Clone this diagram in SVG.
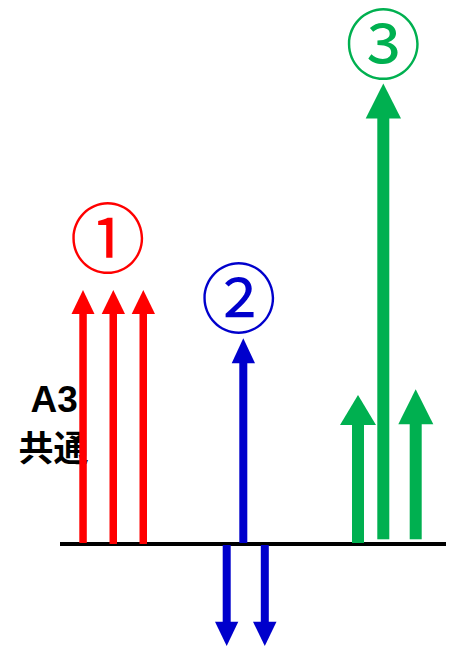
<svg xmlns="http://www.w3.org/2000/svg" width="462" height="649" viewBox="0 0 462 649">
<style>
.r{fill:#FF0000}.b{fill:#0000CC}.g{fill:#00B050}
.num{font-family:"Noto Sans CJK JP","Noto Sans",sans-serif;font-size:76px;text-anchor:middle;dominant-baseline:central}
.cjk{font-family:"Noto Sans CJK JP",sans-serif;font-size:35px;font-weight:bold;fill:#000;text-anchor:middle}
.a3{font-family:"Liberation Sans",Arial,sans-serif;font-size:37px;font-weight:bold;fill:#000;text-anchor:middle}
</style>
<rect width="462" height="649" fill="#fff"/>
<g id="label-a3">
<text class="a3" x="54.2" y="411.7">A3</text>
<text class="cjk" x="53.5" y="460.5">共通</text>
</g>
<g id="label1"><text class="num r" x="107.7" y="233.5">①</text></g>
<g id="label2"><text class="num b" x="238.7" y="293.5">②</text></g>
<g id="label3"><text class="num g" x="383.3" y="40">③</text></g>
<g id="baseline"><rect x="60" y="542" width="386" height="4" fill="#000"/></g>
<g id="connectors">
<g class="r">
<rect x="79.3" y="312" width="7.5" height="231"/><polygon points="83,290 71.5,314 94.5,314"/>
<rect x="109.5" y="312" width="7.5" height="232"/><polygon points="113.3,290 101.7,314 125,314"/>
<rect x="139.5" y="312" width="7.5" height="232"/><polygon points="143.3,290 131.7,314 155,314"/>
</g>
<g class="b">
<rect x="239.3" y="361" width="8" height="182"/><polygon points="243.3,338.3 231.7,363.3 255,363.3"/>
<rect x="222.7" y="545" width="8" height="78"/><polygon points="215,621.7 238.3,621.7 226.7,646"/>
<rect x="260.8" y="545" width="8" height="78"/><polygon points="253,621.7 276.5,621.7 264.8,646"/>
</g>
<g class="g">
<rect x="377.3" y="116" width="12" height="423.3"/><polygon points="383.3,83.5 365.7,118.5 401,118.5"/>
<rect x="352" y="423" width="12" height="120"/><polygon points="358,395 340,425 376,425"/>
<rect x="409.7" y="422" width="12" height="117.3"/><polygon points="415.7,389.3 398.3,424.3 433.3,424.3"/>
</g>
</g>
</svg>
